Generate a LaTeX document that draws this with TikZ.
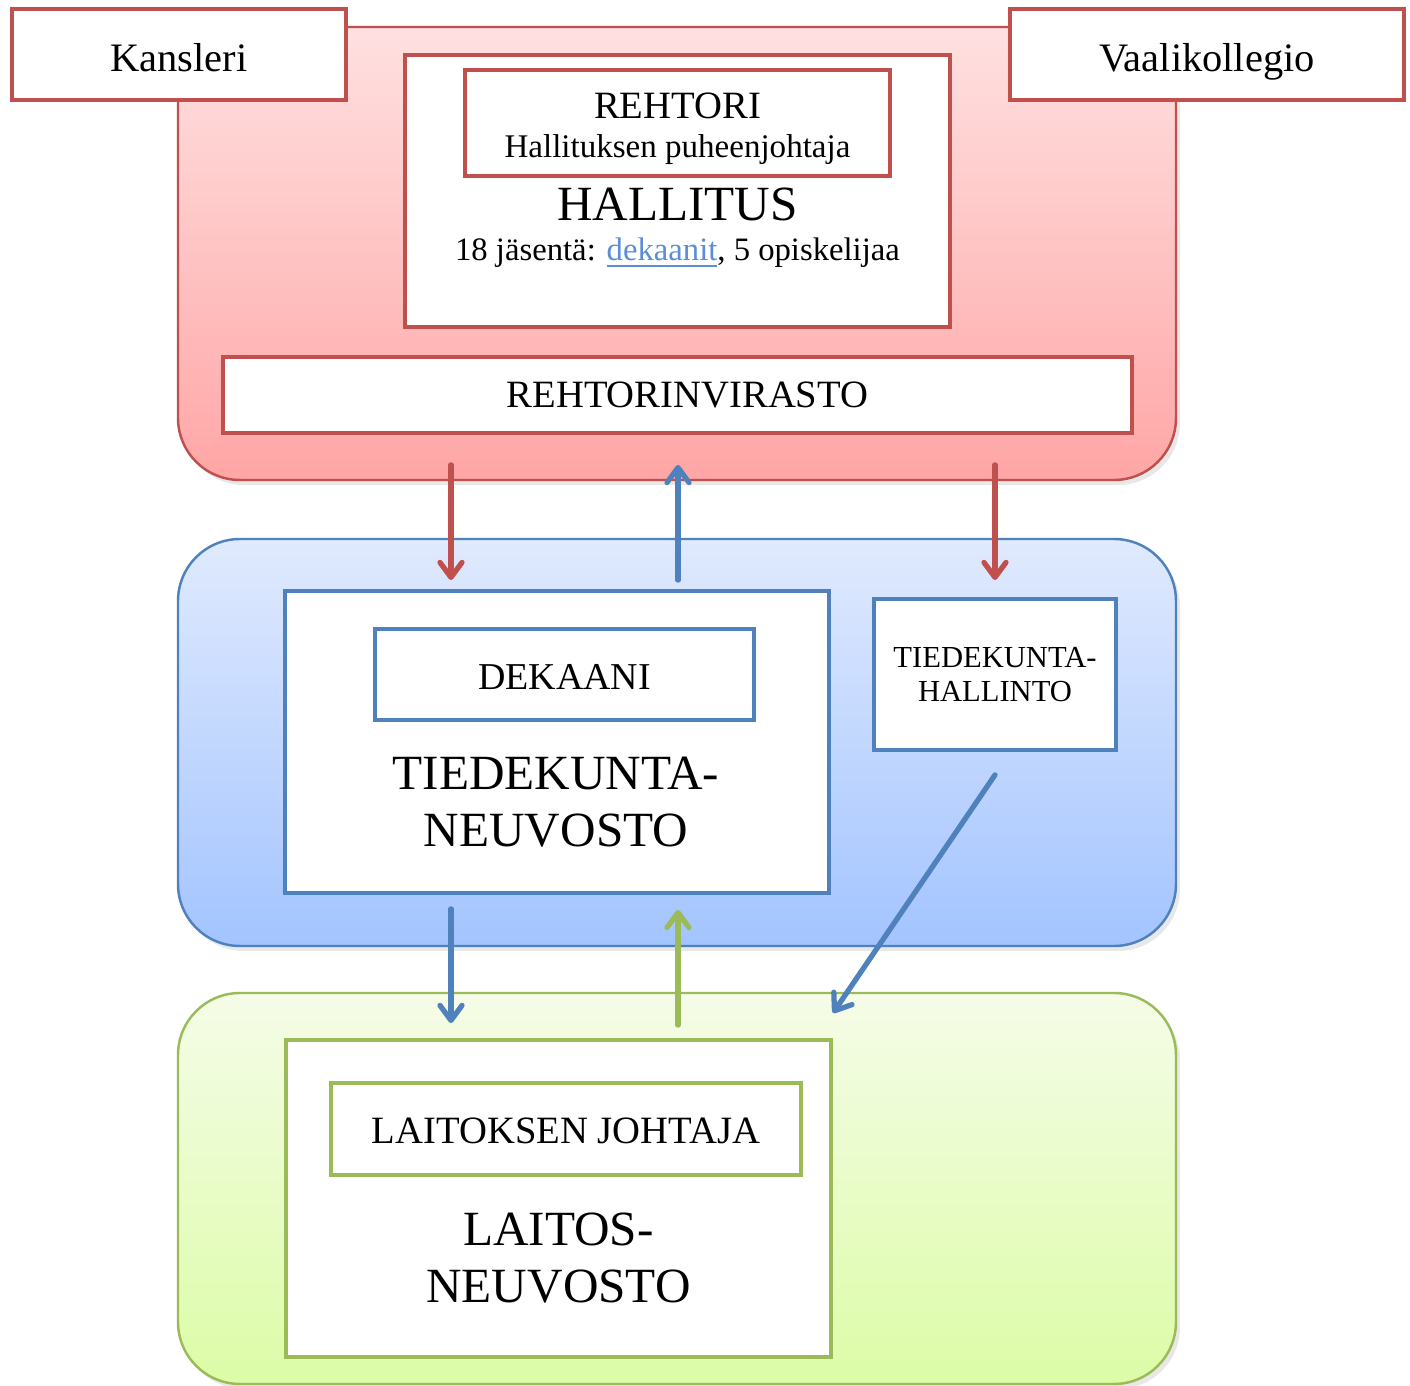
\documentclass[tikz,border=0pt]{standalone}
\usepackage{fontspec}
\setmainfont{Liberation Serif}
\usetikzlibrary{arrows.meta,shadows}
\definecolor{rehtred}{HTML}{C0504D}
\definecolor{tdkblue}{HTML}{4F81BD}
\definecolor{laitgreen}{HTML}{9BBB59}
\definecolor{linkblue}{HTML}{5B8ED6}
\newcommand{\fsz}[2]{\fontsize{#1}{#2}\selectfont}
\begin{document}
\begin{tikzpicture}[
    box/.style={draw, line width=1.1pt, fill=white, inner sep=0pt, align=center},
    redbox/.style={box, draw=rehtred},
    bluebox/.style={box, draw=tdkblue},
    greenbox/.style={box, draw=laitgreen},
    area/.style={rounded corners=0.62cm, line width=0.7pt,
        drop shadow={opacity=0.18, shadow xshift=0.04cm, shadow yshift=-0.05cm}},
    arr/.style={line width=1.5pt, line cap=round, -{Straight Barb[length=1.5mm, width=2.2mm, round]}},
]
\useasboundingbox (0,0) rectangle (14.10,-13.86);

\shade[area, draw=rehtred, top color=red!12, bottom color=red!35] (1.78,-0.27) rectangle (11.76,-4.80);
\shade[area, draw=tdkblue, top color={rgb,255:red,224;green,234;blue,253}, bottom color={rgb,255:red,163;green,196;blue,255}] (1.78,-5.39) rectangle (11.76,-9.46);
\shade[area, draw=laitgreen, top color={rgb,255:red,245;green,252;blue,232}, bottom color={rgb,255:red,220;green,252;blue,166}] (1.78,-9.93) rectangle (11.76,-13.84);

\node[redbox, minimum width=3.34cm, minimum height=0.91cm, text height=1.1em, text depth=0.135em, font=\fsz{11.5}{14}] (kansleri) at (1.79,-0.545) {Kansleri};
\node[redbox, minimum width=3.94cm, minimum height=0.91cm, text height=1.1em, text depth=0.135em, font=\fsz{11.5}{14}] (vaali) at (12.07,-0.545) {Vaalikollegio};

\node[redbox, minimum width=5.45cm, minimum height=2.72cm] (hallitus) at (6.775,-1.91) {};
\node[redbox, minimum width=4.25cm, minimum height=1.06cm] (rehtori) at (6.775,-1.23) {};
\node[align=center, inner sep=0pt] (rehtoriteksti) at (6.775,-1.29)
    {\fsz{11}{11.5}REHTORI\\[-1pt]\fsz{9.4}{11}Hallituksen puheenjohtaja};
\node[font=\fsz{14}{16}] (hallotsikko) at (6.775,-2.04) {HALLITUS};
\node[font=\fsz{9.3}{11}] (jasenet) at (6.775,-2.53)
    {18 jäsentä: \textcolor{linkblue}{\underline{dekaanit}}, 5 opiskelijaa};
\node[redbox, minimum width=9.09cm, minimum height=0.76cm, font=\fsz{11}{13}] (virasto) at (6.775,-3.95) {\hspace*{0.2cm}REHTORINVIRASTO};

\node[bluebox, minimum width=5.44cm, minimum height=3.02cm] (neuvosto) at (5.57,-7.42) {};
\node[bluebox, minimum width=3.79cm, minimum height=0.91cm, text height=0.85em, text depth=0pt, font=\fsz{10.8}{13}] (dekaani) at (5.645,-6.745) {DEKAANI};
\node[font=\fsz{14}{16.2}, align=center] (tdkteksti) at (5.56,-8.02) {TIEDEKUNTA-\\NEUVOSTO};
\node[bluebox, minimum width=2.42cm, minimum height=1.51cm, font=\fsz{8.7}{9.7}] (hallinto) at (9.95,-6.745) {TIEDEKUNTA-\\HALLINTO};

\node[greenbox, minimum width=5.45cm, minimum height=3.17cm] (laitosneuvosto) at (5.585,-11.985) {};
\node[greenbox, minimum width=4.70cm, minimum height=0.92cm, text height=0.85em, text depth=0pt, font=\fsz{11}{13}] (johtaja) at (5.66,-11.29) {LAITOKSEN JOHTAJA};
\node[font=\fsz{14}{16.2}, align=center] (laitteksti) at (5.585,-12.585) {LAITOS-\\NEUVOSTO};

\coordinate (vas) at (4.51,0);
\coordinate (kesk) at (6.78,0);
\coordinate (oik) at (9.95,0);
\coordinate (diagpaa) at (8.33,-10.13);

\draw[arr, rehtred, shorten <=0.3cm, shorten >=0.09cm] (vas |- virasto.south) -- (vas |- neuvosto.north);
\draw[arr, tdkblue, shorten <=0.09cm, shorten >=0.3cm] (kesk |- neuvosto.north) -- (kesk |- virasto.south);
\draw[arr, rehtred, shorten <=0.3cm, shorten >=0.17cm] (oik |- virasto.south) -- (oik |- hallinto.north);
\draw[arr, tdkblue, shorten <=0.14cm, shorten >=0.15cm] (vas |- neuvosto.south) -- (vas |- laitosneuvosto.north);
\draw[arr, laitgreen, shorten <=0.13cm, shorten >=0.15cm] (kesk |- laitosneuvosto.north) -- (kesk |- neuvosto.south);
\draw[arr, tdkblue] ([yshift=-0.23cm]hallinto.south) -- (diagpaa);
\end{tikzpicture}
\end{document}
